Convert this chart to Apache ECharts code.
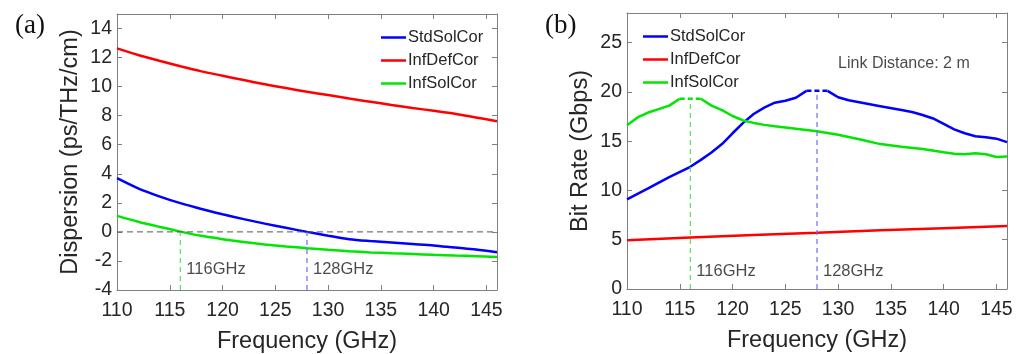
<!DOCTYPE html>
<html><head><meta charset="utf-8">
<script src="https://cdn.jsdelivr.net/npm/echarts@6/dist/echarts.min.js"></script>
<style>html,body{margin:0;padding:0;background:#fff}#c{width:1020px;height:354px}</style>
</head><body><div id="c"></div>
<script>
// ---------- data ----------
const seriesNames = ['StdSolCor', 'InfDefCor', 'InfSolCor'];

// (a) Dispersion vs frequency
const dispFreq = [110,112,114,116,118,120,122,124,126,128,130,132,134,136,138,140,142,144,146];
const dispStd  = [3.70,3.00,2.45,1.98,1.58,1.22,0.88,0.57,0.28,0.00,-0.26,-0.50,-0.63,-0.73,-0.83,-0.93,-1.08,-1.22,-1.40];
const dispDef  = [12.63,12.18,11.78,11.40,11.05,10.75,10.45,10.17,9.90,9.65,9.42,9.18,8.96,8.74,8.53,8.34,8.14,7.88,7.62];
const dispSol  = [1.10,0.70,0.35,0.02,-0.27,-0.50,-0.70,-0.86,-1.00,-1.12,-1.23,-1.33,-1.41,-1.47,-1.52,-1.58,-1.63,-1.67,-1.72];

// (b) Bit rate vs frequency (null = flat peak drawn dashed)
const rateStdFreq = [110,112,114,116,117,118,119,120,121,122,123,124,125,126,127,128,129,130,131,132,134,136,137,138,139,140,141,142,143,144,145,146];
const rateStd     = [9.1,10.2,11.35,12.4,13.1,13.85,14.7,15.8,16.85,17.75,18.4,18.9,19.1,19.4,20.1,null,20.1,19.45,19.15,18.95,18.55,18.15,17.95,17.65,17.3,16.75,16.2,15.8,15.5,15.4,15.25,14.9];
const rateSolFreq = [110,111,112,113,114,115,116,117,118,119,120,121,122,123,124,126,128,130,132,134,136,138,140,141,142,143,144,145,146];
const rateSol     = [16.6,17.4,17.9,18.25,18.6,19.3,null,19.3,18.6,18.15,17.55,17.1,16.85,16.65,16.5,16.25,16.0,15.65,15.2,14.7,14.42,14.2,13.87,13.72,13.68,13.76,13.67,13.4,13.44];
const rateDefFreq = [110,116,122,128,134,140,146];
const rateDef     = [4.95,5.22,5.47,5.70,5.95,6.17,6.40];

// optimum points
const optFreq  = [116, 128];             // InfSolCor, StdSolCor
const optLabel = ['116GHz', '128GHz'];
const solPeakFreq = [115, 117];
const solPeakRate = 19.3;
const stdPeakFreq = [127, 129];
const stdPeakRate = 20.1;

// axes
const freqMin = 110, freqMax = 146, freqStep = 5;
const dispMin = -4, dispMax = 15, dispStep = 2;
const rateMin = 0, rateMax = 28, rateStep = 5;
const linkText = 'Link Distance: 2 m';

// ---------- styling ----------
const BLUE = '#0000ff', RED = '#ff0000', GREEN = '#00e600';
const BLUE_D = '#6b6bff', GREEN_D = '#55e055';
const AX = '#808080', TXT = '#262626';
const FONT = '"Liberation Sans", Arial, sans-serif';
const LW = 2.5;

const pairs = (xs, ys) => xs.map((x, i) => [x, ys[i] == null ? '-' : ys[i]]);

function xAxis(grid, pos, named) {
  return {
    type: 'value', gridIndex: grid, position: pos, min: freqMin, max: freqMax, interval: freqStep,
    axisLine: { show: true, onZero: false, lineStyle: { color: AX, width: 1 } },
    axisTick: { show: true, inside: true, length: 5, lineStyle: { color: AX } },
    axisLabel: { show: named, fontSize: 19.5, color: TXT, margin: 11, showMaxLabel: false, fontFamily: FONT },
    splitLine: { show: false },
    name: named ? 'Frequency (GHz)' : '', nameLocation: 'middle', nameGap: 40,
    nameTextStyle: { fontSize: 23.5, color: TXT, fontFamily: FONT }
  };
}
function yAxis(grid, pos, min, max, step, name) {
  return {
    type: 'value', gridIndex: grid, position: pos, min: min, max: max, interval: step,
    axisLine: { show: true, onZero: false, lineStyle: { color: AX, width: 1 } },
    axisTick: { show: true, inside: true, length: 5, lineStyle: { color: AX } },
    axisLabel: { show: !!name, fontSize: 19.5, color: TXT, margin: 5, showMaxLabel: false, fontFamily: FONT },
    splitLine: { show: false },
    name: name || '', nameLocation: 'middle', nameGap: 34,
    nameTextStyle: { fontSize: 23.5, color: TXT, fontFamily: FONT }
  };
}
function line(name, xi, yi, data, color, width, type, smooth) {
  return {
    type: 'line', name: name, xAxisIndex: xi, yAxisIndex: yi, data: data,
    symbol: 'none', smooth: smooth || false, connectNulls: false, silent: true,
    lineStyle: { color: color, width: width, type: type || 'solid' }, itemStyle: { color: color }
  };
}
function textMark(xi, yi, x, y, text, size) {
  return {
    type: 'scatter', xAxisIndex: xi, yAxisIndex: yi, data: [[x, y]], symbolSize: 0, silent: true,
    label: { show: true, position: 'right', distance: 6, formatter: text, fontSize: size, color: '#1a1a1a', fontFamily: FONT }
  };
}

const series = [
  // (a)
  line(seriesNames[0], 0, 0, pairs(dispFreq, dispStd), BLUE, LW, 'solid', 0.3),
  line(seriesNames[1], 0, 0, pairs(dispFreq, dispDef), RED, LW, 'solid', 0.3),
  line(seriesNames[2], 0, 0, pairs(dispFreq, dispSol), GREEN, LW, 'solid', 0.3),
  line('', 0, 0, [[freqMin, 0], [freqMax, 0]], '#555555', 1, [6, 4]),
  line('', 0, 0, [[optFreq[0], dispMin], [optFreq[0], 0]], GREEN_D, 1.2, [5, 4]),
  line('', 0, 0, [[optFreq[1], dispMin], [optFreq[1], 0]], BLUE_D, 1.2, [5, 4]),
  textMark(0, 0, optFreq[0], -2.6, optLabel[0], 16.5),
  textMark(0, 0, optFreq[1], -2.6, optLabel[1], 16.5),
  // (b)
  line(seriesNames[0], 2, 2, pairs(rateStdFreq, rateStd), BLUE, LW),
  line(seriesNames[1], 2, 2, pairs(rateDefFreq, rateDef), RED, LW),
  line(seriesNames[2], 2, 2, pairs(rateSolFreq, rateSol), GREEN, LW),
  line('', 2, 2, stdPeakFreq.map(f => [f, stdPeakRate]), BLUE, LW, [5, 3]),
  line('', 2, 2, solPeakFreq.map(f => [f, solPeakRate]), GREEN, LW, [5, 3]),
  line('', 2, 2, [[optFreq[0], rateMin], [optFreq[0], solPeakRate]], GREEN_D, 1.2, [5, 4]),
  line('', 2, 2, [[optFreq[1], rateMin], [optFreq[1], stdPeakRate]], BLUE_D, 1.2, [5, 4]),
  textMark(2, 2, optFreq[0], 1.8, optLabel[0], 16.5),
  textMark(2, 2, optFreq[1], 1.8, optLabel[1], 16.5),
  textMark(2, 2, 130, 22.9, linkText, 16)
];
series[series.length - 1].label.distance = 0;

const legendBase = {
  data: seriesNames, orient: 'vertical', icon: 'rect', itemWidth: 25, itemHeight: 2.5,
  itemGap: 6, padding: 0, selectedMode: false,
  textStyle: { fontSize: 16.5, color: TXT, fontFamily: FONT, padding: [0, 0, 0, -3] }
};

const chart = echarts.init(document.getElementById('c'), null, { renderer: 'canvas' });
chart.setOption({
  animation: false,
  backgroundColor: '#ffffff',
  textStyle: { fontFamily: FONT },
  grid: [
    { left: 117, top: 14, width: 380, height: 276, outerBoundsMode: 'none', containLabel: false },
    { left: 627, top: 13, width: 380, height: 276, outerBoundsMode: 'none', containLabel: false }
  ],
  xAxis: [xAxis(0, 'bottom', true), xAxis(0, 'top', false), xAxis(1, 'bottom', true), xAxis(1, 'top', false)],
  yAxis: [
    yAxis(0, 'left', dispMin, dispMax, dispStep, 'Dispersion (ps/THz/cm)'),
    yAxis(0, 'right', dispMin, dispMax, dispStep, ''),
    yAxis(1, 'left', rateMin, rateMax, rateStep, 'Bit Rate (Gbps)'),
    yAxis(1, 'right', rateMin, rateMax, rateStep, '')
  ],
  legend: [
    Object.assign({}, legendBase, { left: 381, top: 29 }),
    Object.assign({}, legendBase, { left: 643, top: 28 })
  ],
  graphic: [
    { type: 'text', left: 15, top: 12, style: { text: '(a)', font: '27px "Liberation Serif", "Times New Roman", serif', fill: '#111' } },
    { type: 'text', left: 545, top: 12, style: { text: '(b)', font: '27px "Liberation Serif", "Times New Roman", serif', fill: '#111' } }
  ],
  series: series
});
</script></body></html>
